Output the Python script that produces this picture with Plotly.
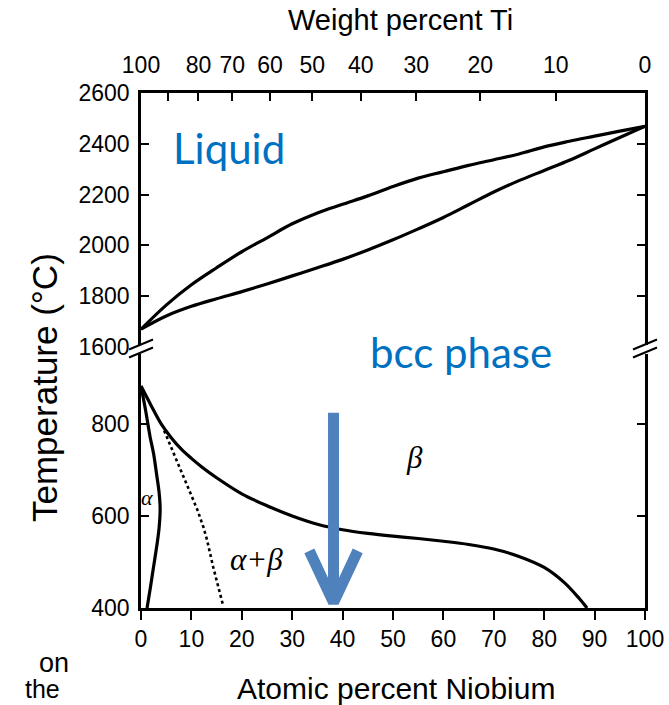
import plotly.graph_objects as go

W, H = 669, 705

# ---- Ti-Nb phase diagram data (atomic % Nb, temperature in deg C) ----
# liquidus and solidus (high-temperature panel)
liq_x = [0, 5, 10, 15, 20, 25, 30, 35, 40, 45, 50, 55, 60, 65, 70, 75, 80, 85, 90, 95, 100]
liq_T = [1670, 1765, 1845, 1912, 1975, 2030, 2085, 2128, 2162, 2195, 2232, 2265,
         2290, 2315, 2337, 2360, 2388, 2410, 2430, 2450, 2469]
sol_x = [0, 5, 10, 15, 20, 25, 30, 35, 40, 45, 50, 55, 60, 65, 70, 75, 80, 85, 90, 95, 100]
sol_T = [1670, 1722, 1760, 1790, 1818, 1848, 1880, 1912, 1945, 1982, 2022, 2065,
         2110, 2160, 2210, 2255, 2295, 2335, 2380, 2425, 2469]

# beta transus (low-temperature panel)
beta_x = [0, 2, 4, 6, 8, 10, 12, 15, 20, 25, 30, 35, 40, 45, 50, 55, 60, 65, 70, 75, 80, 84, 87, 88.5]
beta_T = [882, 840, 800, 770, 745, 725, 707, 683, 648, 622, 600, 582, 570, 562,
          556, 551, 545, 538, 528, 512, 488, 455, 420, 400]

# alpha / alpha+beta boundary
alpha_x = [0, 0.9, 1.8, 2.5, 3.1, 3.6, 3.8, 3.6, 3.2, 2.4, 1.8, 1.2]
alpha_T = [882, 830, 772, 735, 690, 650, 615, 575, 540, 483, 440, 400]

# dotted boundary inside alpha+beta
dot_x = [4.6, 6.2, 7.8, 9.5, 11.2, 12.4, 13.1, 14.3, 15.3, 16.3]
dot_T = [785, 743, 703, 658, 613, 575, 548, 490, 447, 405]

# arrow marking the alloy composition
arrow_x = 38.2
arrow_top_T = 824
arrow_tip_T = 412
arrow_head_dx = 4.8
arrow_head_dT = 112

# axis ticks
bottom_ticks = [0, 10, 20, 30, 40, 50, 60, 70, 80, 90, 100]
upper_T_ticks = [1600, 1800, 2000, 2200, 2400, 2600]
lower_T_ticks = [400, 600, 800]
# weight % Ti scale expressed in atomic % Nb
wt_ti_pos = [0, 5.4, 11.4, 18.1, 25.6, 34.0, 43.6, 54.6, 67.3, 82.3, 100]
wt_ti_text = ["100", "", "80", "70", "60", "50", "40", "30", "20", "10", "0"]

UPPER_RANGE = [1600, 2600]
LOWER_RANGE = [400, 956]

# ---- page geometry (pixels) ----
X0, X1 = 141, 645
UP_TOP, UP_BOT = 93, 347
LO_TOP, LO_BOT = 352, 608


def fx(px):
    return px / W


def fy(py):
    return 1 - py / H


BLACK = "#000000"
NUM_FONT = dict(family="Liberation Sans, Arial, sans-serif", size=23, color=BLACK)

fig = go.Figure()

# high-temperature panel
fig.add_trace(go.Scatter(x=liq_x, y=liq_T, mode="lines", line=dict(color=BLACK, width=3.2, shape="spline"),
                         xaxis="x2", yaxis="y2", hoverinfo="skip"))
fig.add_trace(go.Scatter(x=sol_x, y=sol_T, mode="lines", line=dict(color=BLACK, width=3.2, shape="spline"),
                         xaxis="x2", yaxis="y2", hoverinfo="skip"))

# low-temperature panel
fig.add_trace(go.Scatter(x=beta_x, y=beta_T, mode="lines", line=dict(color=BLACK, width=3.2, shape="spline"),
                         xaxis="x", yaxis="y", hoverinfo="skip"))
fig.add_trace(go.Scatter(x=alpha_x, y=alpha_T, mode="lines", line=dict(color=BLACK, width=3.2, shape="spline"),
                         xaxis="x", yaxis="y", hoverinfo="skip"))
fig.add_trace(go.Scatter(x=dot_x, y=dot_T, mode="lines", line=dict(color=BLACK, width=2.6, dash="dot"),
                         xaxis="x", yaxis="y", hoverinfo="skip"))

# composition arrow: shaft and open chevron head
ARROW = "#4F81BD"
fig.add_trace(go.Scatter(x=[arrow_x, arrow_x], y=[arrow_top_T, arrow_tip_T + 12], mode="lines",
                         line=dict(color=ARROW, width=11), xaxis="x", yaxis="y", hoverinfo="skip"))
fig.add_trace(go.Scatter(x=[arrow_x - arrow_head_dx, arrow_x, arrow_x + arrow_head_dx],
                         y=[arrow_tip_T + arrow_head_dT, arrow_tip_T, arrow_tip_T + arrow_head_dT],
                         mode="lines", line=dict(color=ARROW, width=11), xaxis="x", yaxis="y",
                         hoverinfo="skip"))

axis_common = dict(showgrid=False, zeroline=False, showline=True, linecolor=BLACK, linewidth=2.5,
                   tickcolor=BLACK, tickwidth=2, tickfont=NUM_FONT, automargin=False)

fig.update_layout(
    width=W, height=H,
    margin=dict(l=0, r=0, t=0, b=0, pad=0),
    paper_bgcolor="white", plot_bgcolor="white",
    showlegend=False,
    xaxis=dict(domain=[fx(X0), fx(X1)], range=[0, 100], anchor="y",
               tickvals=bottom_ticks, ticks="outside", ticklen=9, **axis_common),
    yaxis=dict(domain=[fy(LO_BOT), fy(LO_TOP)], range=LOWER_RANGE, anchor="x",
               tickvals=lower_T_ticks, ticks="inside", ticklen=8, mirror="ticks",
               ticklabelstandoff=4, **axis_common),
    xaxis2=dict(domain=[fx(X0), fx(X1)], range=[0, 100], anchor="y2", side="top",
                tickvals=wt_ti_pos, ticktext=wt_ti_text, ticks="inside", ticklen=8,
                ticklabelstandoff=8, **axis_common),
    yaxis2=dict(domain=[fy(UP_BOT), fy(UP_TOP)], range=UPPER_RANGE, anchor="x2",
                tickvals=upper_T_ticks, ticks="inside", ticklen=8, mirror="ticks",
                ticklabelstandoff=4, **axis_common),
)

# axis break marks on both vertical frame lines
shapes = []
for xc in (X0, X1):
    shapes.append(dict(type="rect", xref="paper", yref="paper",
                       x0=fx(xc - 3), x1=fx(xc + 3), y0=fy(LO_TOP + 2), y1=fy(UP_BOT - 2),
                       fillcolor="white", line=dict(width=0), layer="above"))
    for dy in (-5, 3):
        yc = (UP_BOT + LO_TOP) / 2 + dy
        shapes.append(dict(type="line", xref="paper", yref="paper",
                           x0=fx(xc - 12), y0=fy(yc + 5), x1=fx(xc + 12), y1=fy(yc - 5),
                           line=dict(color=BLACK, width=2), layer="above"))
fig.update_layout(shapes=shapes)

SANS = "Liberation Sans, Arial, sans-serif"
BLUE_FONT = dict(family="Lato, Open Sans, sans-serif", size=42, color="#0070C0")
GREEK_FONT = dict(family="Liberation Serif, Times New Roman, serif", size=31, color=BLACK)

annotations = [
    dict(text="Weight percent Ti", xref="paper", yref="paper", x=fx(400), y=fy(20),
         showarrow=False, font=dict(family=SANS, size=29, color=BLACK), xanchor="center", yanchor="middle"),
    dict(text="Atomic percent Niobium", xref="paper", yref="paper", x=fx(396), y=fy(688),
         showarrow=False, font=dict(family=SANS, size=30, color=BLACK), xanchor="center", yanchor="middle"),
    dict(text="Temperature (°C)", xref="paper", yref="paper", x=fx(44), y=fy(388),
         showarrow=False, font=dict(family=SANS, size=35, color=BLACK), textangle=-90,
         xanchor="center", yanchor="middle"),
    dict(text="Liquid", xref="x2", yref="y2", x=17.5, y=2383, showarrow=False, font=BLUE_FONT,
         xanchor="center", yanchor="middle"),
    dict(text="bcc phase", xref="x", yref="paper", x=63.5, y=fy(352), showarrow=False, font=BLUE_FONT,
         xanchor="center", yanchor="middle"),
    dict(text="<i>β</i>", xref="x", yref="y", x=54.2, y=726, showarrow=False, font=GREEK_FONT,
         xanchor="center", yanchor="middle"),
    dict(text="<i>α+β</i>", xref="x", yref="y", x=22.9, y=506, showarrow=False, font=GREEK_FONT,
         xanchor="center", yanchor="middle"),
    dict(text="<i>α</i>", xref="x", yref="y", x=1.1, y=641, showarrow=False,
         font=dict(family=GREEK_FONT["family"], size=22, color=BLACK), xanchor="center", yanchor="middle"),
    dict(text="on", xref="paper", yref="paper", x=fx(54), y=fy(663), showarrow=False,
         font=dict(family=SANS, size=27, color=BLACK), xanchor="center", yanchor="middle"),
    dict(text="the", xref="paper", yref="paper", x=fx(42), y=fy(689), showarrow=False,
         font=dict(family=SANS, size=25, color=BLACK), xanchor="center", yanchor="middle"),
]
fig.update_layout(annotations=annotations)

fig.write_html("out.html")
